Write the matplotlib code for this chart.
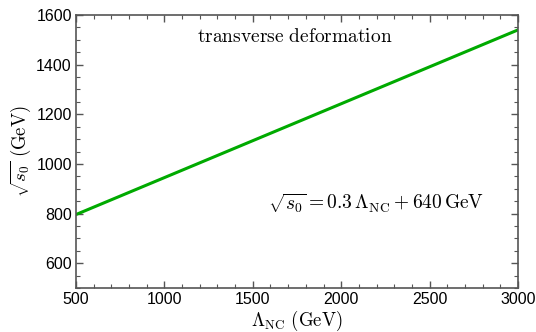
import matplotlib
matplotlib.use("Agg")
import matplotlib.pyplot as plt
from matplotlib.ticker import MultipleLocator

plt.rcParams['mathtext.fontset'] = 'cm'
plt.rcParams['font.family'] = ['Liberation Sans', 'DejaVu Sans']

# data
lam_nc = [500, 3000]
sqrt_s0 = [796, 1540]

fig = plt.figure(figsize=(5.36, 3.32), dpi=100)
ax = fig.add_axes([76/536, 1 - 288/332, (518 - 76)/536, (288 - 15)/332])

ax.plot(lam_nc, sqrt_s0, color='#00aa00', lw=2.2)

ax.set_xlim(500, 3000)
ax.set_ylim(500, 1600)
ax.xaxis.set_major_locator(MultipleLocator(500))
ax.xaxis.set_minor_locator(MultipleLocator(100))
ax.yaxis.set_major_locator(MultipleLocator(200))
ax.yaxis.set_minor_locator(MultipleLocator(50))
ax.set_yticks([600, 800, 1000, 1200, 1400, 1600])

for s in ax.spines.values():
    s.set_color('#555555')
    s.set_linewidth(1.2)
ax.tick_params(which='both', direction='in', top=True, right=True,
               color='#555555', labelsize=11.5, pad=3)
ax.tick_params(which='major', length=5, width=1)
ax.tick_params(which='minor', length=3, width=0.8)

ax.set_xlabel(r'$\Lambda_{\rm NC}\ (\rm GeV)$', fontsize=13.5, labelpad=1)
ax.set_ylabel(r'$\sqrt{s_0}\ (\rm GeV)$', fontsize=13.5, labelpad=2)

ax.text(0.495, 0.92, r'$\rm transverse\ deformation$', transform=ax.transAxes,
        ha='center', va='center', fontsize=14)
ax.text(0.68, 0.31, r'$\sqrt{s_0} = 0.3\,\Lambda_{\rm NC} + 640\,{\rm GeV}$',
        transform=ax.transAxes, ha='center', va='center', fontsize=14)

fig.savefig('out.png', dpi=100)
